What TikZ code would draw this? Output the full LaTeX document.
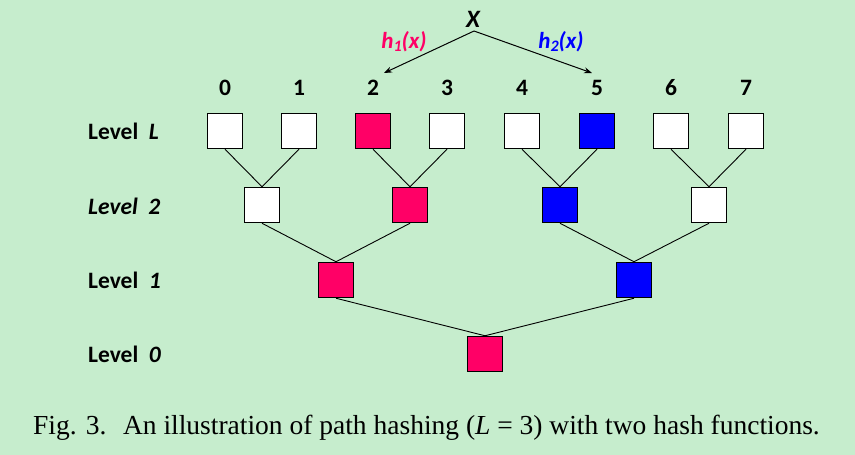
\documentclass[tikz,border=0pt]{standalone}
\usepackage{fontspec}
\setmainfont{Carlito}
\newfontfamily\tnr{Liberation Serif}
\usetikzlibrary{arrows.meta}
\definecolor{bg}{HTML}{C6EDCD}
\definecolor{hpink}{HTML}{FF0066}
\definecolor{hblue}{HTML}{0000FF}
\tikzset{
  cell/.style={draw=black, line width=1.5pt, minimum size=35pt, inner sep=0pt, fill=white},
  pinkcell/.style={cell, fill=hpink},
  bluecell/.style={cell, fill=hblue},
  idx/.style={font=\fontsize{23.5}{25}\selectfont\bfseries, inner sep=1pt},
  lvl/.style={font=\fontsize{23.5}{25}\selectfont\bfseries, anchor=west, inner sep=0pt},
  edge/.style={line width=0.9pt},
  harrow/.style={line width=1pt, -{Stealth[length=8pt,width=6pt]}},
  hlab/.style={font=\fontsize{23}{25}\selectfont\bfseries\itshape, inner sep=0pt}
}
\begin{document}
\begin{tikzpicture}[x=1pt,y=-1pt]
\fill[bg] (0,0) rectangle (855,455);
\useasboundingbox (0,0) rectangle (855,455);
% Level L
\node[cell]     (b0) at (225,131) {};
\node[cell]     (b1) at (299,131) {};
\node[pinkcell] (b2) at (373,131) {};
\node[cell]     (b3) at (447,131) {};
\node[cell]     (b4) at (522,131) {};
\node[bluecell] (b5) at (597,131) {};
\node[cell]     (b6) at (671,131) {};
\node[cell]     (b7) at (746,131) {};
% Level 2
\node[cell]     (c0) at (262,205) {};
\node[pinkcell] (c1) at (410,205) {};
\node[bluecell] (c2) at (560,205) {};
\node[cell]     (c3) at (709,205) {};
% Level 1
\node[pinkcell] (d0) at (336,280) {};
\node[bluecell] (d1) at (634,280) {};
% Level 0
\node[pinkcell] (e0) at (485,354) {};
% edges
\draw[edge] (b0.south) -- (c0.north);
\draw[edge] (b1.south) -- (c0.north);
\draw[edge] (b2.south) -- (c1.north);
\draw[edge] (b3.south) -- (c1.north);
\draw[edge] (b4.south) -- (c2.north);
\draw[edge] (b5.south) -- (c2.north);
\draw[edge] (b6.south) -- (c3.north);
\draw[edge] (b7.south) -- (c3.north);
\draw[edge] (c0.south) -- (d0.north);
\draw[edge] (c1.south) -- (d0.north);
\draw[edge] (c2.south) -- (d1.north);
\draw[edge] (c3.south) -- (d1.north);
\draw[edge] (d0.south) -- (e0.north);
\draw[edge] (d1.south) -- (e0.north);
% index labels
\node[idx] (n0) at (225,88) {0};
\node[idx] (n1) at (299,88) {1};
\node[idx] (n2) at (373,88) {2};
\node[idx] (n3) at (447,88) {3};
\node[idx] (n4) at (522,88) {4};
\node[idx] (n5) at (597,88) {5};
\node[idx] (n6) at (671,88) {6};
\node[idx] (n7) at (746,88) {7};
% level labels
\node[lvl] (lL) at (88,131) {Level\hspace{0.45em}\itshape L};
\node[lvl] (l2) at (88,206) {\itshape Level\hspace{0.45em}2};
\node[lvl] (l1) at (88,280) {Level\hspace{0.45em}\itshape 1};
\node[lvl] (l0) at (88,354) {Level\hspace{0.45em}\itshape 0};
% hash
\node[font=\fontsize{25}{27}\selectfont\bfseries\itshape, inner sep=0pt] (X) at (473,19) {X};
\coordinate (xs) at (474,31);
\coordinate (a1) at (384,73);
\coordinate (a2) at (592,73);
\draw[harrow] (xs) -- (a1);
\draw[harrow] (xs) -- (a2);
\node[hlab, text=hpink] (h1) at (404,42) {h\raisebox{-0.12em}{\fontsize{16}{18}\selectfont 1}(x)};
\node[hlab, text=hblue] (h2) at (561,42) {h\raisebox{-0.12em}{\fontsize{16}{18}\selectfont 2}(x)};
% caption
\node[font=\tnr\fontsize{27.5}{30}\selectfont, anchor=base west, inner sep=0pt] (cap) at (33,434)
  {Fig. 3.\hspace{0.6em}An illustration of path hashing (\textit{L} = 3) with two hash functions.};
\end{tikzpicture}
\end{document}
